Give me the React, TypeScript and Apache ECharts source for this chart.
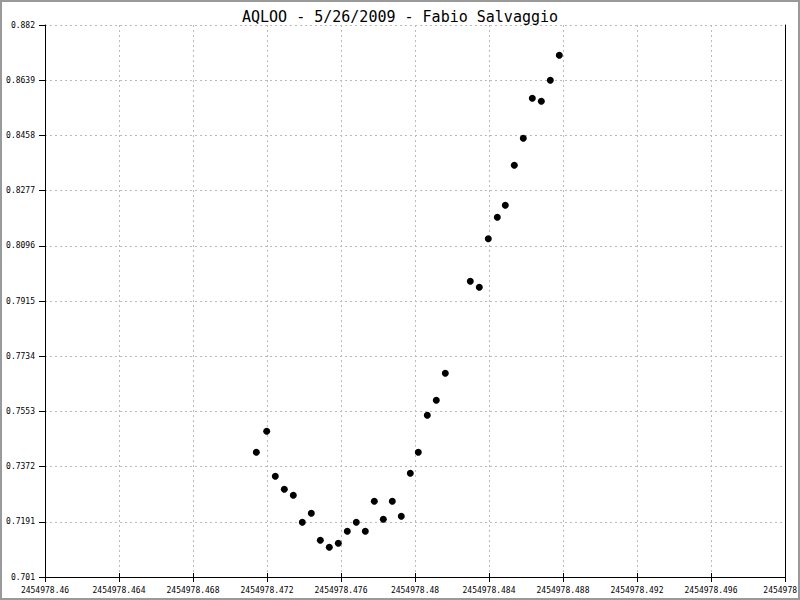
import React, { useEffect, useRef } from "react";
import * as echarts from "echarts";

const TITLE = "AQLOO - 5/26/2009 - Fabio Salvaggio";

const jd = [
  2454978.471422, 2454978.471984, 2454978.472449, 2454978.472935, 2454978.473422,
  2454978.473908, 2454978.474395, 2454978.474881, 2454978.475368, 2454978.475854,
  2454978.476341, 2454978.476827, 2454978.477314, 2454978.4778, 2454978.478286,
  2454978.478773, 2454978.479259, 2454978.479746, 2454978.480178, 2454978.480665,
  2454978.481151, 2454978.481638, 2454978.482989, 2454978.483476, 2454978.483962,
  2454978.484449, 2454978.484881, 2454978.485368, 2454978.485854, 2454978.486341,
  2454978.486827, 2454978.487314, 2454978.4878,
];

const flux = [
  0.74189, 0.74878, 0.73402, 0.72976, 0.72779,
  0.71894, 0.72189, 0.71303, 0.71074, 0.71205,
  0.71599, 0.71894, 0.71599, 0.72582, 0.71992,
  0.72582, 0.7209, 0.735, 0.74189, 0.75402,
  0.75894, 0.76779, 0.79796, 0.79599, 0.81193,
  0.81895, 0.82288, 0.836, 0.84485, 0.85797,
  0.85698, 0.86387, 0.87207,
];

const xTicks = [
  2454978.46, 2454978.464, 2454978.468, 2454978.472, 2454978.476, 2454978.48,
  2454978.484, 2454978.488, 2454978.492, 2454978.496, 2454978.5,
];

const yTicks = [
  0.701, 0.7191, 0.7372, 0.7553, 0.7734, 0.7915, 0.8096, 0.8277, 0.8458, 0.8639, 0.882,
];

const MONO = "DejaVu Sans Mono";

export default function App() {
  const ref = useRef<HTMLDivElement>(null);
  useEffect(() => {
    if (!ref.current) return;
    const chart = echarts.init(ref.current, undefined, { renderer: "svg" });
    const xMin = xTicks[0];
    const xMax = xTicks[xTicks.length - 1];
    const yMin = yTicks[0];
    const yMax = yTicks[yTicks.length - 1];
    const fmtX = (v: number) => String(parseFloat(Number(v).toFixed(3)));
    const fmtY = (v: number) => String(parseFloat(Number(v).toFixed(4)));
    chart.setOption({
      animation: false,
      backgroundColor: "#ffffff",
      title: {
        text: TITLE,
        left: "center",
        top: 4,
        textStyle: { fontFamily: MONO, fontSize: 15, fontWeight: "normal", color: "#000" },
      },
      grid: {
        left: 45,
        right: 15,
        top: 25,
        bottom: 23,
        containLabel: false,
        outerBoundsMode: "none",
      },
      xAxis: [
        {
          type: "value",
          min: xMin,
          max: xMax,
          position: "bottom",
          axisLine: { show: true, onZero: false, lineStyle: { color: "#000", width: 1 } },
          axisTick: { show: true, inside: false, length: 5, customValues: xTicks, lineStyle: { color: "#000" } },
          axisLabel: {
            show: true,
            customValues: xTicks,
            formatter: fmtX,
            fontFamily: MONO,
            fontSize: 8,
            color: "#000",
            margin: 9,
            hideOverlap: false,
          },
          splitLine: { show: true, lineStyle: { color: "#bbbbbb", type: [2, 3], width: 1 } },
        },
        {
          type: "value",
          min: xMin,
          max: xMax,
          position: "bottom",
          axisLine: { show: false },
          axisTick: { show: true, inside: true, length: 4, customValues: xTicks, lineStyle: { color: "#000" } },
          axisLabel: { show: false },
          splitLine: { show: false },
        },
      ],
      yAxis: [
        {
          type: "value",
          min: yMin,
          max: yMax,
          position: "left",
          axisLine: { show: true, onZero: false, lineStyle: { color: "#000", width: 1 } },
          axisTick: { show: true, inside: false, length: 6, customValues: yTicks, lineStyle: { color: "#000" } },
          axisLabel: {
            show: true,
            customValues: yTicks,
            formatter: fmtY,
            fontFamily: MONO,
            fontSize: 8,
            color: "#000",
            margin: 10,
          },
          splitLine: { show: true, lineStyle: { color: "#bbbbbb", type: [2, 3], width: 1 } },
        },
        {
          type: "value",
          min: yMin,
          max: yMax,
          position: "right",
          axisLine: { show: true, onZero: false, lineStyle: { color: "#000", width: 1 } },
          axisTick: { show: false },
          axisLabel: { show: false },
          splitLine: { show: false },
        },
      ],
      series: [
        {
          type: "scatter",
          xAxisIndex: 0,
          yAxisIndex: 0,
          data: jd.map((x, i) => [x, flux[i]]),
          symbol: "circle",
          symbolSize: 7,
          itemStyle: { color: "#000", opacity: 1 },
        },
      ],
      graphic: [
        {
          type: "rect",
          shape: { x: 1, y: 1, width: 798, height: 598 },
          style: { fill: "none", stroke: "#9a9a9a", lineWidth: 2 },
          silent: true,
          z: 100,
        },
      ],
    });
    return () => chart.dispose();
  }, []);
  return (
    <div
      ref={ref}
      style={{ position: "fixed", left: 0, top: 0, width: 800, height: 600 }}
    />
  );
}
